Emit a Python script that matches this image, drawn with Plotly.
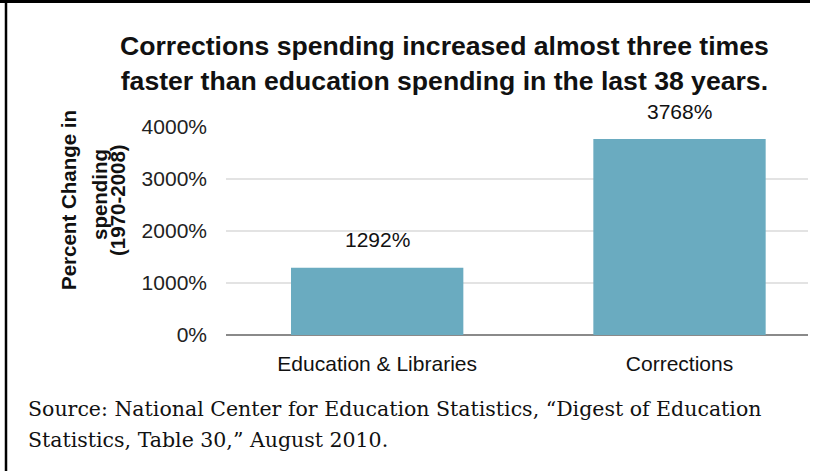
import plotly.graph_objects as go

categories = ["Education & Libraries", "Corrections"]
values = [1292, 3768]
labels = ["1292%", "3768%"]
tick_vals = [0, 1000, 2000, 3000, 4000]
tick_text = ["0%", "1000%", "2000%", "3000%", "4000%"]

W, H = 817, 471
L, R, T, B = 226, 9, 127, 136
PW, PH = W - L - R, H - T - B

def px(x):
    return (x - L) / PW

def py(y):
    return (H - B - y) / PH

SANS = "Liberation Sans, Arial, sans-serif"
SERIF = "DejaVu Serif, serif"

fig = go.Figure()
fig.add_trace(go.Bar(
    x=categories, y=values, width=0.57,
    marker=dict(color="rgb(106,171,192)", line=dict(width=0)),
    hoverinfo="skip",
))

annotations = []
for c, v, t in zip(categories, values, labels):
    annotations.append(dict(x=c, y=v, xref="x", yref="y", text=t, showarrow=False,
                            yshift=28, yanchor="middle",
                            font=dict(family=SANS, size=21, color="#111")))

annotations.append(dict(
    x=px(444), y=py(64), xref="paper", yref="paper", showarrow=False,
    text="<b>Corrections spending increased almost three times<br>faster than education spending in the last 38 years.</b>",
    font=dict(family=SANS, size=26.6, color="#111"), xanchor="center", yanchor="middle",
))
for txt, xc, yc in [("Percent Change in", 68, 200), ("spending", 99, 195), ("(1970-2008)", 117, 200)]:
    annotations.append(dict(
        x=px(xc), y=py(yc), xref="paper", yref="paper", showarrow=False, textangle=-90,
        text="<b>" + txt + "</b>",
        font=dict(family=SANS, size=20.5, color="#111"), xanchor="center", yanchor="middle",
    ))
for txt, yc in [("Source: National Center for Education Statistics, \u201cDigest of Education", 409),
                ("Statistics, Table 30,\u201d August 2010.", 440)]:
    annotations.append(dict(
        x=px(26), y=py(yc), xref="paper", yref="paper", showarrow=False, align="left",
        text=txt, font=dict(family=SERIF, size=20.5, color="#111"),
        xanchor="left", yanchor="middle",
    ))

shapes = [
    dict(type="line", xref="paper", yref="paper", x0=px(0), x1=px(810), y0=py(1.5), y1=py(1.5),
         line=dict(color="black", width=3)),
    dict(type="line", xref="paper", yref="paper", x0=px(6), x1=px(6), y0=py(0), y1=py(H),
         line=dict(color="black", width=2.5)),
]

fig.update_layout(
    width=W, height=H,
    margin=dict(l=L, r=R, t=T, b=B),
    paper_bgcolor="white", plot_bgcolor="white",
    showlegend=False,
    xaxis=dict(range=[-0.5, 1.425], tickfont=dict(family=SANS, size=21, color="#111"),
               showgrid=False, showline=False, ticks="", ticklen=0, zeroline=False,
               ticklabelstandoff=14),
    yaxis=dict(range=[0, 4000], tickvals=tick_vals, ticktext=tick_text,
               tickfont=dict(family=SANS, size=21, color="#222"),
               showgrid=True, gridcolor="#e3e3e3", gridwidth=1.5,
               zeroline=True, zerolinecolor="#8a8a8a", zerolinewidth=2,
               showline=False, ticks="", ticklabelstandoff=18),
    annotations=annotations,
    shapes=shapes,
)

fig.write_html("out.html", config={"displayModeBar": False},
               post_script="document.body.style.margin='0';document.body.style.overflow='hidden';")
